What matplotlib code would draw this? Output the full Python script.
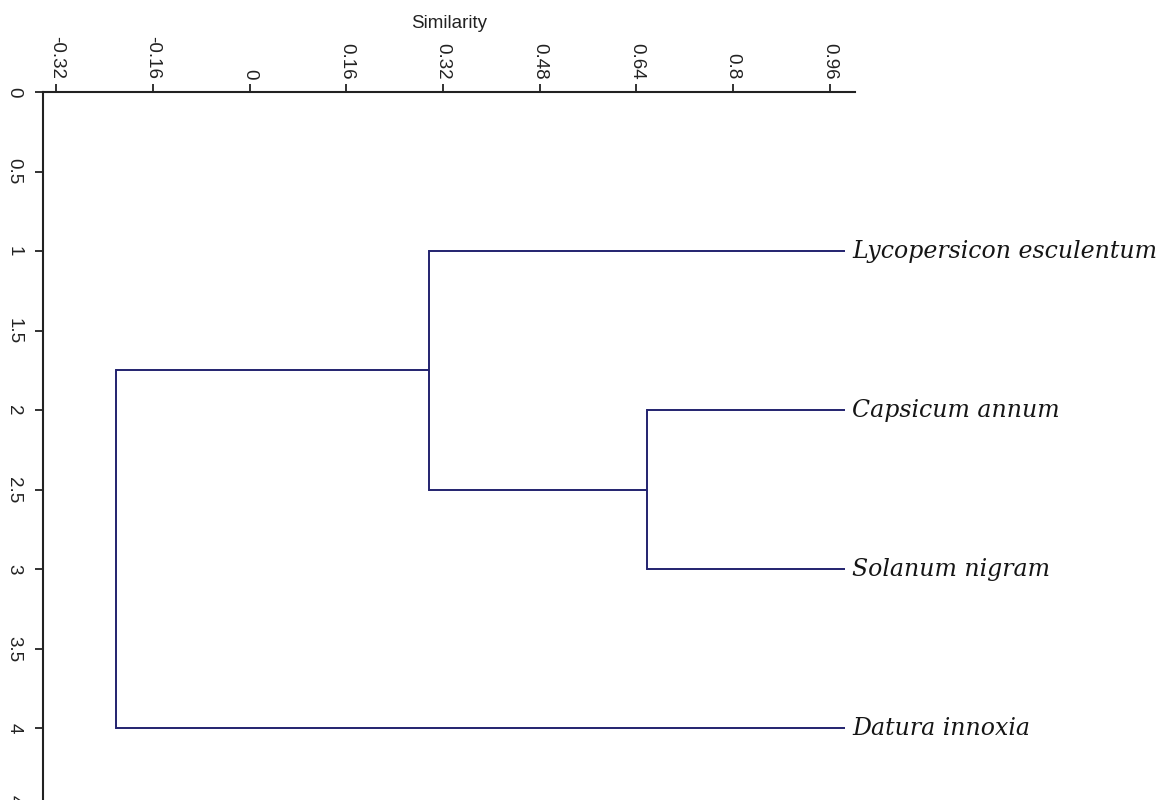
import matplotlib.pyplot as plt

# leaves, top to bottom
leaves = ['Lycopersicon esculentum', 'Capsicum annum', 'Solanum nigram', 'Datura innoxia']
leaf_y = [1, 2, 3, 4]
leaf_sim = 0.985          # where the leaf branches end

# merges: (left node, right node, similarity); nodes 0-3 are leaves, new nodes numbered 4, 5, ...
merge_a = [1, 0, 5]
merge_b = [2, 4, 3]
merge_sim = [0.658, 0.297, -0.222]

xticks = [-0.32, -0.16, 0, 0.16, 0.32, 0.48, 0.64, 0.8, 0.96]
yticks = [0, 0.5, 1, 1.5, 2, 2.5, 3, 3.5, 4, 4.5]

LINE = '#23236f'
AX = '#222222'

fig = plt.figure(figsize=(11.65, 8), dpi=100)
ax = fig.add_axes([43 / 1165, 1 - 92 / 800 - 0.9147, (855 - 43) / 1165, 0.9147])

node_y = list(leaf_y)
node_x = [leaf_sim] * len(leaves)
for a, b, s in zip(merge_a, merge_b, merge_sim):
    # horizontal branches from each child back to the merge level, then the vertical bar
    ax.plot([node_x[a], s], [node_y[a], node_y[a]], color=LINE, lw=1.4, solid_capstyle='butt')
    ax.plot([node_x[b], s], [node_y[b], node_y[b]], color=LINE, lw=1.4, solid_capstyle='butt')
    ax.plot([s, s], [node_y[a], node_y[b]], color=LINE, lw=1.4, solid_capstyle='projecting')
    node_x.append(s)
    node_y.append((node_y[a] + node_y[b]) / 2)

for name, y in zip(leaves, leaf_y):
    ax.text(leaf_sim + 0.012, y, name, fontsize=17, family='DejaVu Serif',
            style='italic', va='center', ha='left', color='#151515')

ax.set_xlim(-0.342, 1.002)
ax.set_ylim(4.6, 0)

ax.xaxis.tick_top()
ax.set_xticks(xticks)
ax.set_xticklabels([f'{v:g}' for v in xticks], rotation=-90,
                   family='Liberation Sans', fontsize=13.5)
ax.set_yticks(yticks)
ax.set_yticklabels([f'{v:g}' for v in yticks], rotation=-90, va='center',
                   family='Liberation Sans', fontsize=13.5)
ax.tick_params(axis='x', length=6, width=1.3, color=AX, labelcolor=AX, pad=3)
ax.tick_params(axis='y', length=6, width=1.3, color=AX, labelcolor=AX, pad=9)

# axis title sits level with the tops of the tick labels
fig.text(449 / 1165, 1 - 23 / 800, 'Similarity', family='Liberation Sans', fontsize=13.5,
         color=AX, ha='center', va='center')

for side in ['right', 'bottom']:
    ax.spines[side].set_visible(False)
for side in ['left', 'top']:
    ax.spines[side].set_linewidth(1.5)
    ax.spines[side].set_color(AX)

fig.savefig('out.png', dpi=100)
